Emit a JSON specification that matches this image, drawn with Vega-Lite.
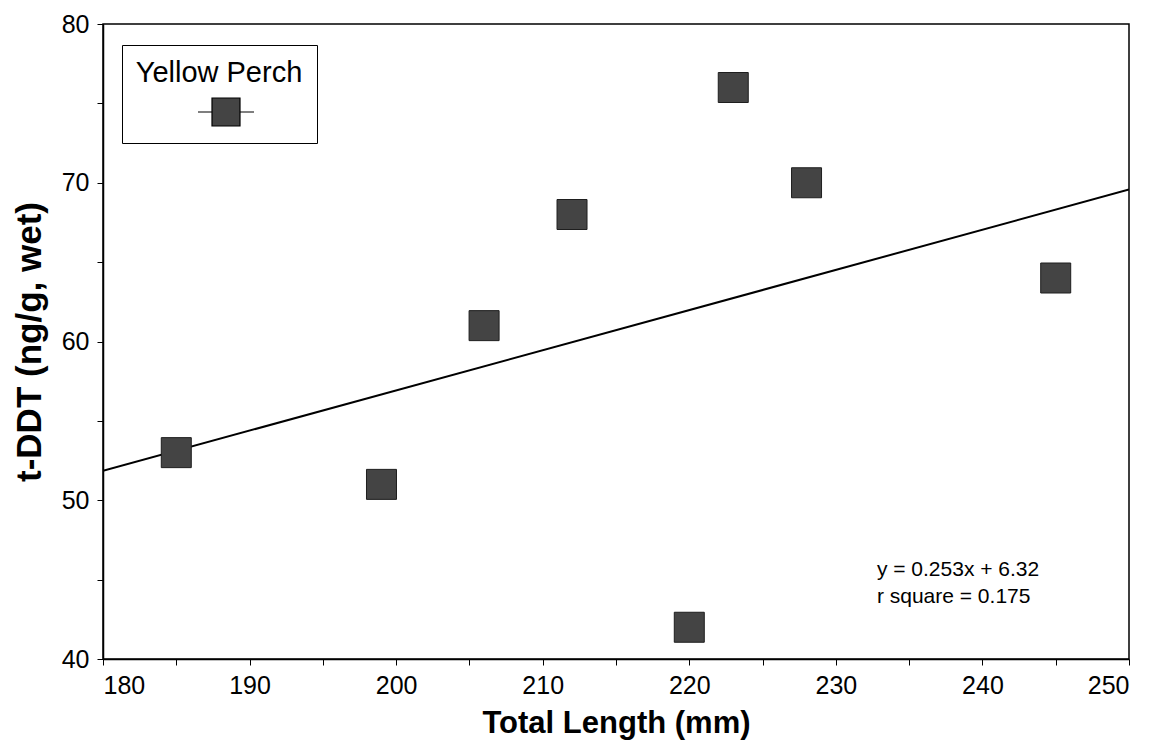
{
  "$schema": "https://vega.github.io/schema/vega-lite/v6.json",
  "autosize": "none",
  "width": 1026,
  "height": 635,
  "padding": {"left": 103, "top": 24, "right": 29, "bottom": 83},
  "background": "white",
  "config": {
    "font": "Liberation Sans",
    "view": {"stroke": "black", "strokeWidth": 1.5},
    "axis": {
      "grid": false,
      "domainColor": "black",
      "domainWidth": 1.5,
      "tickColor": "black",
      "tickWidth": 1,
      "tickSize": 6,
      "labelColor": "black",
      "labelFontSize": 25,
      "labelFont": "Liberation Sans",
      "titleColor": "black",
      "titleFont": "Liberation Sans",
      "titleFontWeight": "bold"
    }
  },
  "datasets": {
    "fish": [
      {"length": 185, "tddt": 53, "species": "Yellow Perch"},
      {"length": 199, "tddt": 51, "species": "Yellow Perch"},
      {"length": 206, "tddt": 61, "species": "Yellow Perch"},
      {"length": 212, "tddt": 68, "species": "Yellow Perch"},
      {"length": 220, "tddt": 42, "species": "Yellow Perch"},
      {"length": 223, "tddt": 76, "species": "Yellow Perch"},
      {"length": 228, "tddt": 70, "species": "Yellow Perch"},
      {"length": 245, "tddt": 64, "species": "Yellow Perch"}
    ],
    "fit": [
      {"length": 180, "tddt": 51.86},
      {"length": 250, "tddt": 69.57}
    ],
    "notes": [
      {"length": 232.8, "tddt": 45.25, "text": "y = 0.253x + 6.32"},
      {"length": 232.8, "tddt": 43.55, "text": "r square = 0.175"}
    ]
  },
  "layer": [
    {
      "data": {"name": "fit"},
      "mark": {"type": "line", "color": "black", "strokeWidth": 2, "clip": true},
      "encoding": {
        "x": {"field": "length", "type": "quantitative", "scale": {"domain": [180, 250], "nice": false, "zero": false},
          "axis": {"values": [180,185,190,195,200,205,210,215,220,225,230,235,240,245,250],
            "labelExpr": "datum.value % 10 == 0 ? datum.label : ''",
            "labelPadding": 8, "title": "Total Length (mm)", "titleFontSize": 31, "titlePadding": 10}},
        "y": {"field": "tddt", "type": "quantitative", "scale": {"domain": [40, 80], "nice": false, "zero": false},
          "axis": {"values": [40,45,50,55,60,65,70,75,80],
            "labelExpr": "datum.value % 10 == 0 ? datum.label : ''",
            "labelPadding": 8, "title": "t-DDT (ng/g, wet)", "titleFontSize": 35, "titlePadding": 14}}
      }
    },
    {
      "data": {"name": "fish"},
      "mark": {"type": "point", "shape": "square", "filled": true, "size": 900, "opacity": 1, "stroke": "#1e1e1e", "strokeWidth": 1},
      "encoding": {
        "x": {"field": "length", "type": "quantitative"},
        "y": {"field": "tddt", "type": "quantitative"},
        "color": {"field": "species", "type": "nominal",
          "scale": {"range": ["#444444"]},
          "legend": {
            "orient": "none", "legendX": 19, "legendY": 21,
            "title": "Yellow Perch", "titleFontSize": 29, "titleFontWeight": "normal", "titleColor": "black",
            "titleFont": "Liberation Sans", "titleAnchor": "middle", "titlePadding": 9,
            "labelExpr": "''", "labelFontSize": 1, "labelOffset": 0,
            "symbolType": "M-2,0H-1M1,0H2M-1,-1H1V1H-1Z", "symbolSize": 784,
            "symbolFillColor": "#444444", "symbolStrokeColor": "black", "symbolStrokeWidth": 1.2, "symbolOpacity": 1,
            "symbolOffset": 30,
            "padding": 14, "strokeColor": "black", "fillColor": "white"
          }}
      }
    },
    {
      "data": {"name": "notes"},
      "mark": {"type": "text", "align": "left", "baseline": "alphabetic", "fontSize": 21, "font": "Liberation Sans", "color": "black"},
      "encoding": {
        "x": {"field": "length", "type": "quantitative"},
        "y": {"field": "tddt", "type": "quantitative"},
        "text": {"field": "text"}
      }
    }
  ]
}
